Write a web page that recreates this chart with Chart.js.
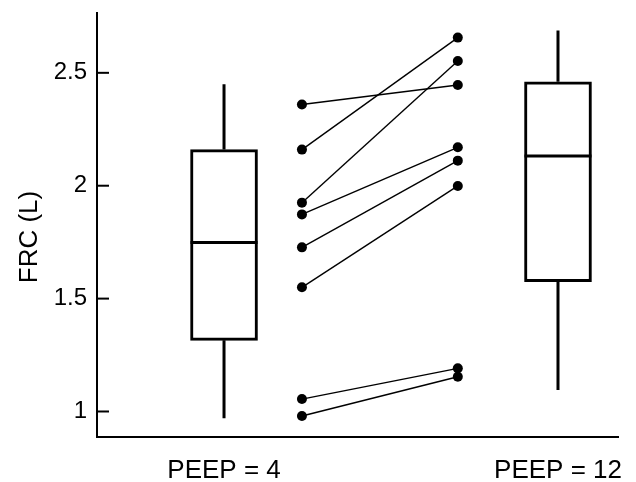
<!DOCTYPE html>
<html>
<head>
<meta charset="utf-8">
<script src="https://cdn.jsdelivr.net/npm/chart.js@4.4.0/dist/chart.umd.min.js"></script>
<style>
  body { margin: 0; background: #fff; }
  canvas { display: block; }
</style>
</head>
<body>
<canvas id="frcChart" width="636" height="482"></canvas>
<script>
// box summaries, one entry per group
const groups = ["PEEP = 4", "PEEP = 12"];
const groupX = [1, 4];
const boxMin = [0.97, 1.095];
const boxQ1 = [1.315, 1.575];
const boxMedian = [1.748, 2.132];
const boxQ3 = [2.16, 2.46];
const boxMax = [2.449, 2.688];

// paired subjects
const pairX = [1.7, 3.1];
const frcPeep4 = [2.36, 2.16, 1.925, 1.873, 1.727, 1.55, 1.055, 0.98];
const frcPeep12 = [2.446, 2.656, 2.552, 2.17, 2.111, 1.999, 1.191, 1.154];

const yTicks = [1, 1.5, 2, 2.5];

const FONT = "'Liberation Sans', Arial, sans-serif";

const boxParts = {
  id: "boxParts",
  afterDatasetsDraw(chart) {
    const c = chart.ctx;
    const y = chart.scales.y;
    const bars = chart.getDatasetMeta(0).data;
    c.save();
    c.strokeStyle = "#000";
    c.lineWidth = 3;
    bars.forEach((bar, i) => {
      const half = bar.width / 2;
      c.beginPath();
      c.moveTo(bar.x, y.getPixelForValue(boxMax[i]));
      c.lineTo(bar.x, y.getPixelForValue(boxQ3[i]));
      c.moveTo(bar.x, y.getPixelForValue(boxQ1[i]));
      c.lineTo(bar.x, y.getPixelForValue(boxMin[i]));
      const m = y.getPixelForValue(boxMedian[i]);
      c.moveTo(bar.x - half, m);
      c.lineTo(bar.x + half, m);
      c.stroke();
    });
    c.restore();
  },
  afterDraw(chart) {
    const c = chart.ctx;
    const y = chart.scales.y;
    c.save();
    // tick marks point into the plot
    c.setLineDash([]);
    c.globalAlpha = 1;
    c.strokeStyle = "#000";
    c.lineWidth = 2;
    yTicks.forEach((v) => {
      const py = y.getPixelForValue(v);
      c.beginPath();
      c.moveTo(y.right, py);
      c.lineTo(y.right + 12, py);
      c.stroke();
    });
    c.restore();
    c.save();
    // y axis title
    c.translate(30, 237);
    c.rotate(-Math.PI / 2);
    c.fillStyle = "#000";
    c.font = "26px " + FONT;
    c.textAlign = "center";
    c.textBaseline = "middle";
    c.fillText("FRC (L)", 0, 0);
    c.restore();
  },
};

const datasets = [
  {
    type: "bar",
    data: groupX.map((x, i) => ({ x: x, y: [boxQ1[i], boxQ3[i]] })),
    backgroundColor: "#fff",
    borderColor: "#000",
    borderWidth: 3,
    borderSkipped: false,
    barThickness: 67,
  },
];

frcPeep4.forEach((v, i) => {
  datasets.push({
    type: "line",
    data: [
      { x: pairX[0], y: v },
      { x: pairX[1], y: frcPeep12[i] },
    ],
    borderColor: "#000",
    borderWidth: 1.4,
    pointRadius: 5,
    pointBackgroundColor: "#000",
    pointBorderWidth: 0,
    fill: false,
  });
});

const ctx = document.getElementById("frcChart").getContext("2d");

new Chart(ctx, {
  type: "scatter",
  data: { datasets: datasets },
  options: {
    responsive: false,
    animation: false,
    devicePixelRatio: 1,
    layout: { padding: { top: 13, right: 18, left: 0, bottom: 0 } },
    plugins: { legend: { display: false }, tooltip: { enabled: false } },
    scales: {
      x: {
        type: "linear",
        min: -0.141,
        max: 4.539,
        offset: false,
        afterBuildTicks: (s) => {
          s.ticks = groupX.map((v) => ({ value: v }));
        },
        afterFit: (s) => {
          s.height = 45;
          s.paddingLeft = 0;
          s.paddingRight = 0;
        },
        grid: { display: false, drawTicks: false, offset: false },
        border: { display: true, color: "#000", width: 2 },
        ticks: {
          padding: 18,
          color: "#000",
          font: { family: FONT, size: 26 },
          callback: (v, i) => groups[i],
        },
      },
      y: {
        min: 0.887,
        max: 2.765,
        afterBuildTicks: (s) => {
          s.ticks = yTicks.map((v) => ({ value: v }));
        },
        afterFit: (s) => {
          s.width = 97;
          s.paddingTop = 0;
          s.paddingBottom = 0;
        },
        grid: { display: false, drawTicks: false },
        border: { display: true, color: "#000", width: 2 },
        ticks: {
          padding: 10,
          color: "#000",
          font: { family: FONT, size: 24 },
          callback: (v) => String(v),
        },
      },
    },
  },
  plugins: [boxParts],
});
</script>
</body>
</html>
